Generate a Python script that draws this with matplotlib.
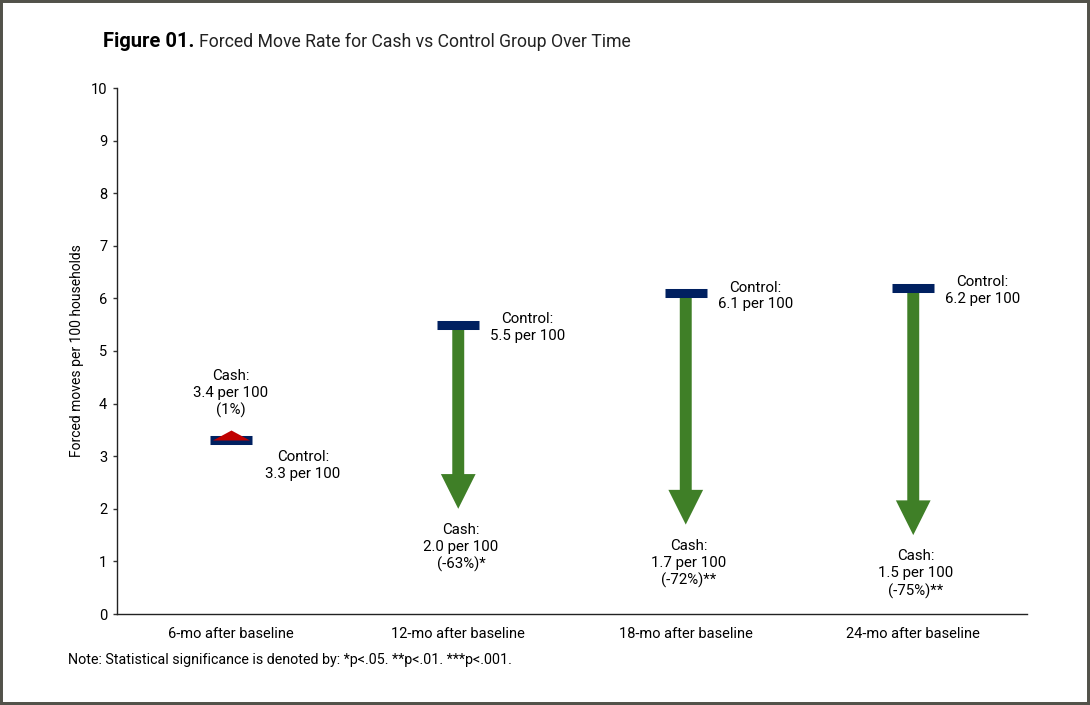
import numpy as np
import matplotlib

matplotlib.use('Agg')

import matplotlib.pyplot as plt
from matplotlib.patches import Rectangle

plt.rcParams['font.family'] = ['Roboto', 'DejaVu Sans']

periods = ['6-mo after baseline', '12-mo after baseline', '18-mo after baseline', '24-mo after baseline']
control = [3.3, 5.5, 6.1, 6.2]
cash = [3.4, 2.0, 1.7, 1.5]
change = ['(1%)', '(-63%)*', '(-72%)**', '(-75%)**']

navy = '#002060'
green = '#3F7F27'
red = '#C00000'

fig = plt.figure(figsize=(10.9, 7.05), dpi=100)
ax = fig.add_axes([117 / 1090, 1 - 614 / 705, 910 / 1090, 526 / 705])

x = np.arange(len(periods))
ax.set_xlim(-0.5, len(periods) - 0.5)
ax.set_ylim(0, 10)

lbl = dict(ha='center', va='center', fontsize=10.8, linespacing=1.25, textcoords='offset points')

for i in x:
    c0, c1 = control[i], cash[i]
    # control marker
    ax.hlines(c0, i - 0.093, i + 0.093, color=navy, lw=6.5, zorder=4)
    if c1 < c0:
        ax.annotate('', xy=(i, c1), xytext=(i, c0),
                    arrowprops=dict(arrowstyle='simple,head_length=25,head_width=25,tail_width=8.6',
                                    mutation_scale=1, color=green, lw=0,
                                    shrinkA=0, shrinkB=0), zorder=3)
        ax.annotate('Cash:\n{:.1f} per 100\n{}'.format(c1, change[i]), xy=(i, c1),
                    xytext=(2, -28), **lbl)
        ax.annotate('Control:\n{:.1f} per 100'.format(c0), xy=(i, c0),
                    xytext=(50, -2), **lbl)
    else:
        ax.plot(i, c1, marker=[(-1, -0.27), (1, -0.27), (0, 0.27)], markersize=26.6,
                color=red, mec='none', zorder=5)
        ax.annotate('Cash:\n{:.1f} per 100\n{}'.format(c1, change[i]), xy=(i, c1),
                    xytext=(0, 30), **lbl)
        ax.annotate('Control:\n{:.1f} per 100'.format(c0), xy=(i, c0),
                    xytext=(52, -18), **lbl)

ax.set_xticks(x)
ax.set_xticklabels(periods, fontsize=10.5)
ax.set_yticks(range(0, 11))
ax.tick_params(axis='y', length=3, width=1, labelsize=10.5, pad=4, color='#333333')
ax.tick_params(axis='x', length=0, pad=9)
for s in ['top', 'right']:
    ax.spines[s].set_visible(False)
for s in ['left', 'bottom']:
    ax.spines[s].set_color('#222222')
    ax.spines[s].set_linewidth(1)
ax.set_ylabel('Forced moves per 100 households', fontsize=10, labelpad=5)

# title in two styles
renderer = fig.canvas.get_renderer()
t1 = fig.text(103 / 1090, 1 - 47 / 705, 'Figure 01.', fontsize=14.5, fontweight='bold',
              family=['Liberation Sans Narrow', 'DejaVu Sans Condensed', 'Roboto'],
              va='baseline', ha='left')
bb = t1.get_window_extent(renderer)
fig.text((bb.x1 + 5) / 1090, 1 - 47 / 705, 'Forced Move Rate for Cash vs Control Group Over Time',
         fontsize=12.7, va='baseline', ha='left', color='#222222')

fig.text(68 / 1090, 1 - 660 / 705, 'Note: Statistical significance is denoted by: *p<.05. **p<.01. ***p<.001.',
         fontsize=10.25, va='center', ha='left')

fig.patches.append(Rectangle((0, 0), 1, 1, transform=fig.transFigure, fill=False,
                             edgecolor='#52524A', lw=4.3))

fig.savefig('out.png', dpi=100)
